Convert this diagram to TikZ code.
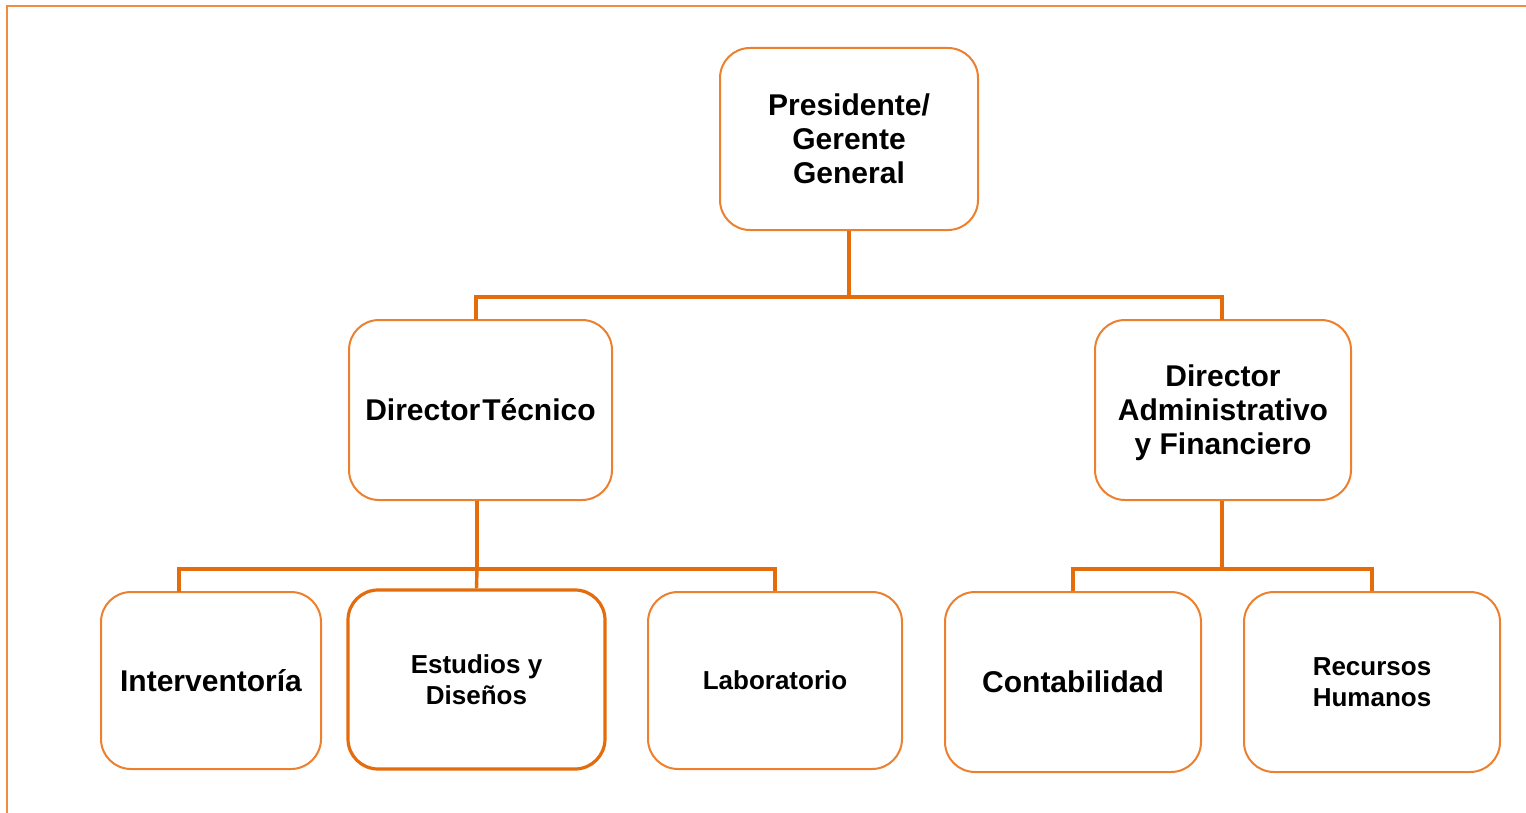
\documentclass[tikz,border=0pt]{standalone}
\usepackage{fontspec}
\setmainfont{Liberation Sans}
\definecolor{boxorange}{RGB}{236,128,46}
\definecolor{lineorange}{RGB}{228,108,10}
\definecolor{frameorange}{RGB}{240,140,62}
\tikzset{
    unit/.style={draw=boxorange,line width=1pt,rounded corners=15pt,fill=white,
        align=center,font=\bfseries\fontsize{15}{17}\selectfont,inner sep=0pt},
    smallunit/.style={unit,font=\bfseries\fontsize{13}{15.5}\selectfont},
    link/.style={draw=lineorange,line width=1.7pt}
}
\begin{document}
\begin{tikzpicture}[x=0.5pt,y=-0.5pt]
    \useasboundingbox (0,0) rectangle (1526,813);
    \draw[frameorange,line width=1pt] (7,813) -- (7,6) -- (1526,6);
    % nivel 1
    \node[unit,minimum width=129pt,minimum height=91pt] (pres) at (849,139)
        {Presidente/\\Gerente\\General};
    % nivel 2
    \node[unit,minimum width=131.5pt,minimum height=90pt] (dtec) at (480.5,410)
        {Director\kern1pt Técnico};
    \node[unit,minimum width=128pt,minimum height=90pt,text depth=0pt] (dadm) at (1223,410)
        {Director\\Administrativo\\y Financiero};
    % nivel 3
    \node[unit,minimum width=110pt,minimum height=88.5pt] (intv) at (211,680.5)
        {Interventoría};
    \node[smallunit,draw=lineorange,line width=1.6pt,minimum width=128.5pt,minimum height=89.5pt] (estu) at (476.5,679.5)
        {Estudios y\\Diseños};
    \node[smallunit,minimum width=127pt,minimum height=88.5pt] (labo) at (775,680.5)
        {Laboratorio};
    \node[unit,minimum width=128pt,minimum height=90pt] (cont) at (1073,682)
        {Contabilidad};
    \node[smallunit,minimum width=128pt,minimum height=90pt] (rrhh) at (1372,682)
        {Recursos\\Humanos};
    % conectores
    \coordinate (bus1) at (849,297);
    \coordinate (bus2) at (477,569);
    \coordinate (bus3) at (1222,569);
    \coordinate (dtectop) at (476,320);
    \coordinate (dadmtop) at (1222,320);
    \coordinate (intvtop) at (179,592);
    \draw[link] (pres.south) -- (bus1);
    \draw[link] (dtectop) |- (bus1) -| (dadmtop);
    \draw[link] (dtec.south -| bus2) -- (bus2);
    \draw[link] (intvtop) |- (bus2) -| (labo.north);
    \draw[link] (bus2) -- (estu.north);
    \draw[link] (dadm.south -| bus3) -- (bus3);
    \draw[link] (cont.north) |- (bus3) -| (rrhh.north);
\end{tikzpicture}
\end{document}
